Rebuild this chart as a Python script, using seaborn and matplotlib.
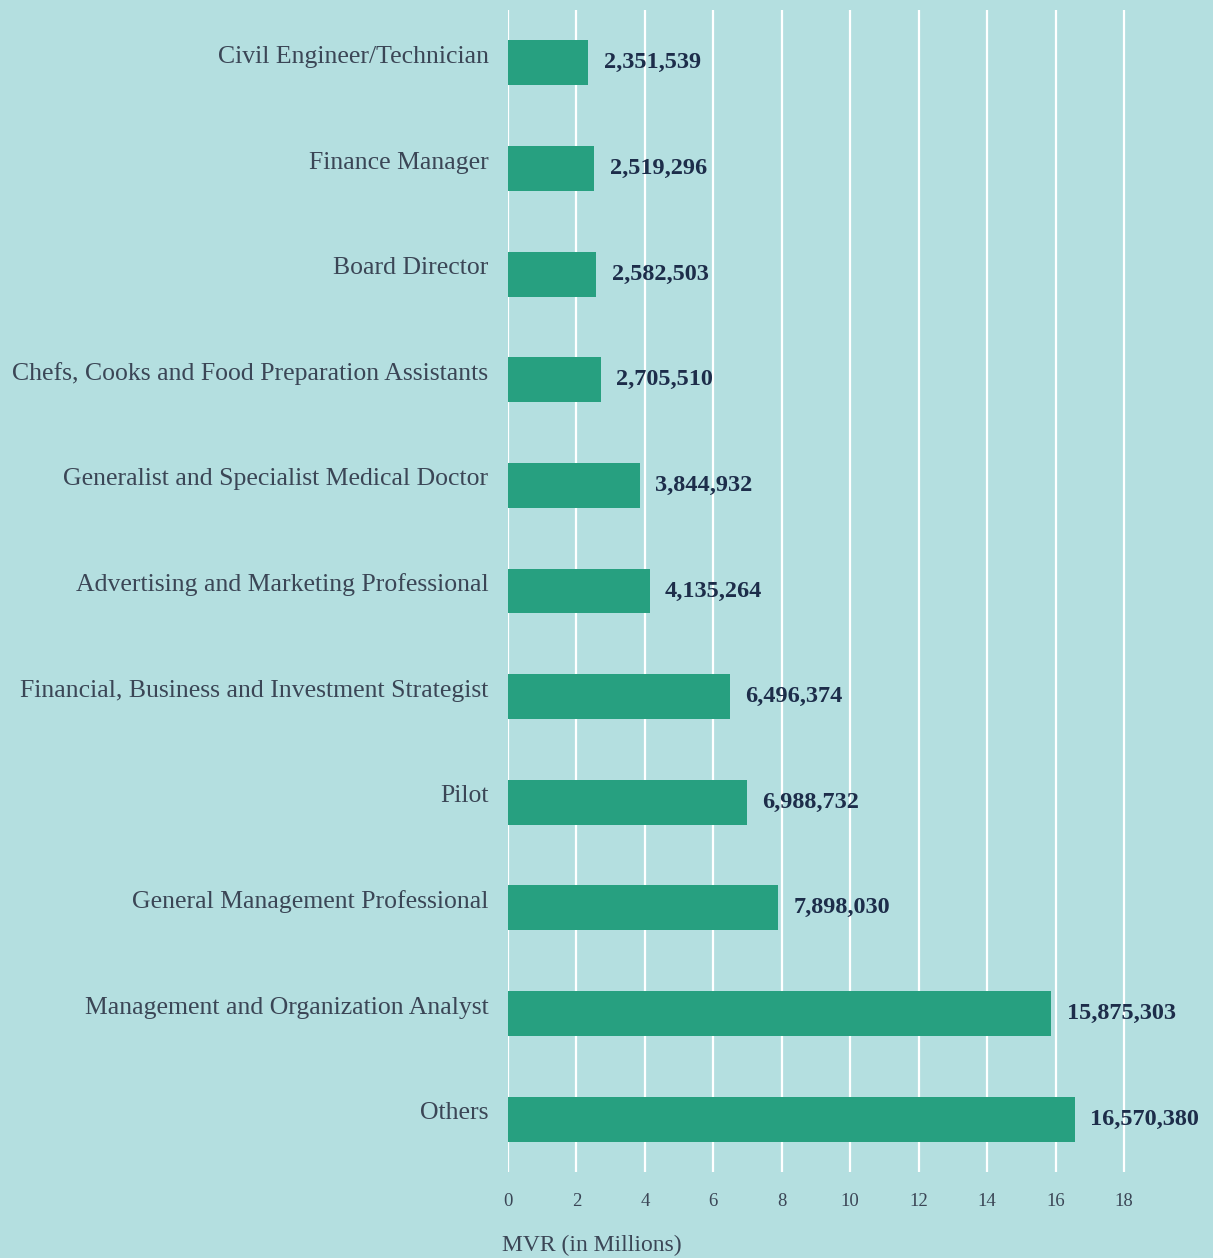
import pandas as pd
import matplotlib.pyplot as plt
import seaborn as sns

occupations = [
    "Civil Engineer/Technician",
    "Finance Manager",
    "Board Director",
    "Chefs, Cooks and Food Preparation Assistants",
    "Generalist and Specialist Medical Doctor",
    "Advertising and Marketing Professional",
    "Financial, Business and Investment Strategist",
    "Pilot",
    "General Management Professional",
    "Management and Organization Analyst",
    "Others",
]
amounts = [2351539, 2519296, 2582503, 2705510, 3844932, 4135264,
           6496374, 6988732, 7898030, 15875303, 16570380]
x_ticks = [0, 2, 4, 6, 8, 10, 12, 14, 16, 18]

BG = "#b4dfe0"
BAR = "#27a080"

df = pd.DataFrame({"occupation": occupations, "amount": amounts})
df["millions"] = df["amount"] / 1e6

sns.set_theme(style="white")
plt.rcParams["font.family"] = ["Liberation Serif", "DejaVu Serif"]

fig = plt.figure(figsize=(12.13, 12.58), dpi=100, facecolor=BG)
ax = fig.add_axes([0.4188, 0.0684, 0.5812, 0.9236])
ax.set_facecolor(BG)

sns.barplot(data=df, x="millions", y="occupation", color=BAR, width=0.425,
            saturation=1, linewidth=0, ax=ax, zorder=3)

ax.set_xlim(0, 20.6)
ax.set_ylim(10.5, -0.5)
ax.set_xticks(x_ticks)
ax.set_xticklabels([str(t) for t in x_ticks], fontsize=13.5, color="#3b4656")
ax.grid(axis="x", color="white", linewidth=1.6, zorder=0)
ax.grid(axis="y", visible=False)
ax.tick_params(axis="x", length=0, pad=15)
ax.tick_params(axis="y", length=0, pad=14)
for lbl in ax.get_yticklabels():
    lbl.set_fontsize(18.5)
    lbl.set_color("#3b4656")
    lbl.set_va("baseline")
for s in ax.spines.values():
    s.set_visible(False)
ax.set_xlabel("")
ax.set_ylabel("")

for i, row in df.iterrows():
    ax.annotate(f"{row['amount']:,}", (row["millions"], i), xytext=(11, 0),
                textcoords="offset points", va="center", ha="left",
                fontsize=17.5, fontweight="bold", color="#1d2d4a", zorder=4)

fig.text(502 / 1213, 1 - 1245 / 1258, "MVR (in Millions)", fontsize=17,
         color="#3b4656", ha="left", va="center")

fig.savefig("out.png", facecolor=BG)
